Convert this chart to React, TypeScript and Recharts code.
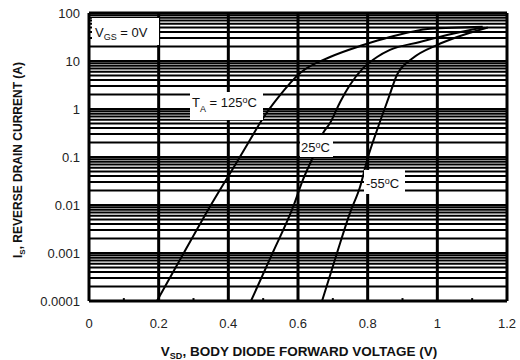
import { LineChart, Line, XAxis, YAxis, ReferenceLine } from 'recharts';

// Body diode forward voltage (V) vs reverse drain current (A)
const V_125C = [0.195, 0.272, 0.35, 0.425, 0.462, 0.5, 0.545, 0.606, 0.692, 0.787, 0.864, 0.979, 1.13];
const I_125C = [0.0001, 0.001, 0.01, 0.08, 0.226, 0.65, 1.8, 5.6, 12.1, 21.5, 31.6, 47, 52];

const V_25C = [0.465, 0.527, 0.586, 0.614, 0.643, 0.672, 0.692, 0.721, 0.749, 0.787, 0.827, 0.864, 0.95, 1.028, 1.13];
const I_25C = [0.0001, 0.001, 0.0091, 0.0332, 0.1, 0.316, 0.51, 1.4, 3.16, 7.1, 12.1, 17, 24.9, 34.8, 50];

const V_M55C = [0.669, 0.712, 0.749, 0.778, 0.801, 0.827, 0.86, 0.884, 0.93, 0.999, 1.057, 1.145];
const I_M55C = [0.0001, 0.001, 0.0068, 0.0237, 0.1, 0.365, 1.7, 5.1, 11.5, 21.5, 31.6, 50];

const X_TICKS = [0, 0.2, 0.4, 0.6, 0.8, 1, 1.2];
const X_MINOR = [0.1, 0.3, 0.5, 0.7, 0.9, 1.1];
const Y_TICKS = [0.0001, 0.001, 0.01, 0.1, 1, 10, 100];
const Y_TICK_LABELS = ['0.0001', '0.001', '0.01', '0.1', '1', '10', '100'];
const MULTS = [1, 2, 3, 4, 5, 6, 7, 8, 9];

const toPoints = (v: number[], i: number[]) => v.map((x, k) => ({ v: x, i: i[k] }));

// every 1..9 x 10^k line between 0.0001 and 100
const Y_GRID: number[] = [];
Y_TICKS.slice(0, -1).forEach((d) => MULTS.forEach((m) => Y_GRID.push(+(d * m).toPrecision(3))));
Y_GRID.push(100);

const FONT = '"Liberation Sans", Arial, sans-serif';

export default function App() {
    return (
        <div style={{ position: 'absolute', left: 0, top: 0, width: 520, height: 360, background: '#fff', fontFamily: FONT }}>
            <LineChart width={520} height={360} margin={{ top: 13, right: 13, bottom: 0, left: 0 }}>
                <XAxis
                    type="number"
                    dataKey="v"
                    domain={[0, 1.2]}
                    ticks={X_TICKS}
                    tickFormatter={(t: number) => String(t)}
                    axisLine={false}
                    tickLine={false}
                    height={59}
                    tickMargin={12}
                    tick={{ fontSize: 13, fill: '#222', fontFamily: FONT }}
                    allowDataOverflow
                />
                <YAxis
                    type="number"
                    scale="log"
                    domain={[0.0001, 100]}
                    ticks={Y_TICKS}
                    tickFormatter={(t: number) => Y_TICK_LABELS[Y_TICKS.findIndex((y) => Math.abs(y - t) / y < 1e-6)] ?? ''}
                    axisLine={false}
                    tickLine={false}
                    width={89}
                    tickMargin={3}
                    tick={{ fontSize: 13, fill: '#222', fontFamily: FONT }}
                    allowDataOverflow
                />
                {Y_GRID.map((y) => (
                    <ReferenceLine key={`h-${y}`} y={y} stroke="#000" strokeWidth={2} ifOverflow="extendDomain" />
                ))}
                {X_TICKS.map((x) => (
                    <ReferenceLine key={`v-${x}`} x={x} stroke="#000" strokeWidth={3} />
                ))}
                {X_MINOR.map((x) => (
                    <ReferenceLine
                        key={`m-${x}`}
                        segment={[{ x, y: 0.0001 }, { x, y: 0.000115 }]}
                        stroke="#000"
                        strokeWidth={2}
                    />
                ))}
                <ReferenceLine y={0.0001} stroke="#000" strokeWidth={3} />
                <ReferenceLine y={100} stroke="#000" strokeWidth={3} />
                <Line data={toPoints(V_125C, I_125C)} dataKey="i" type="monotone" stroke="#000" strokeWidth={2} dot={false} isAnimationActive={false} />
                <Line data={toPoints(V_25C, I_25C)} dataKey="i" type="monotone" stroke="#000" strokeWidth={2} dot={false} isAnimationActive={false} />
                <Line data={toPoints(V_M55C, I_M55C)} dataKey="i" type="monotone" stroke="#000" strokeWidth={2} dot={false} isAnimationActive={false} />
            </LineChart>
            <svg width={520} height={360} style={{ position: 'absolute', left: 0, top: 0, pointerEvents: 'none' }}>
                <g fontFamily={FONT} fill="#111">
                    <rect x={92} y={18} width={67} height={27} fill="#fff" />
                    <text x={95} y={37} fontSize={13}>
                        V<tspan fontSize={9} dy={3}>GS</tspan>
                        <tspan dy={-3}> = 0V</tspan>
                    </text>

                    <rect x={190} y={92} width={73} height={28} fill="#fff" />
                    <text x={192} y={107} fontSize={13}>
                        T<tspan fontSize={9} dy={5}>A</tspan>
                        <tspan dy={-5}> = 125</tspan>
                        <tspan fontSize={9} dy={-4}>o</tspan>
                        <tspan dy={4}>C</tspan>
                    </text>

                    <rect x={300} y={135} width={33} height={22} fill="#fff" />
                    <text x={301} y={152} fontSize={13}>
                        25<tspan fontSize={9} dy={-4}>o</tspan>
                        <tspan dy={4}>C</tspan>
                    </text>

                    <rect x={364} y={170} width={41} height={24} fill="#fff" />
                    <text x={366} y={188} fontSize={13}>
                        -55<tspan fontSize={9} dy={-4}>o</tspan>
                        <tspan dy={4}>C</tspan>
                    </text>

                    <text x={299} y={356} fontSize={13.5} fontWeight="bold" textAnchor="middle">
                        V<tspan fontSize={9} dy={3}>SD</tspan>
                        <tspan dy={-3}>, BODY DIODE FORWARD VOLTAGE (V)</tspan>
                    </text>

                    <text x={0} y={0} fontSize={12} fontWeight="bold" textAnchor="middle" transform="translate(22,160) rotate(-90)">
                        I<tspan fontSize={8} dy={3}>S</tspan>
                        <tspan dy={-3}>, REVERSE DRAIN CURRENT (A)</tspan>
                    </text>
                </g>
            </svg>
        </div>
    );
}
